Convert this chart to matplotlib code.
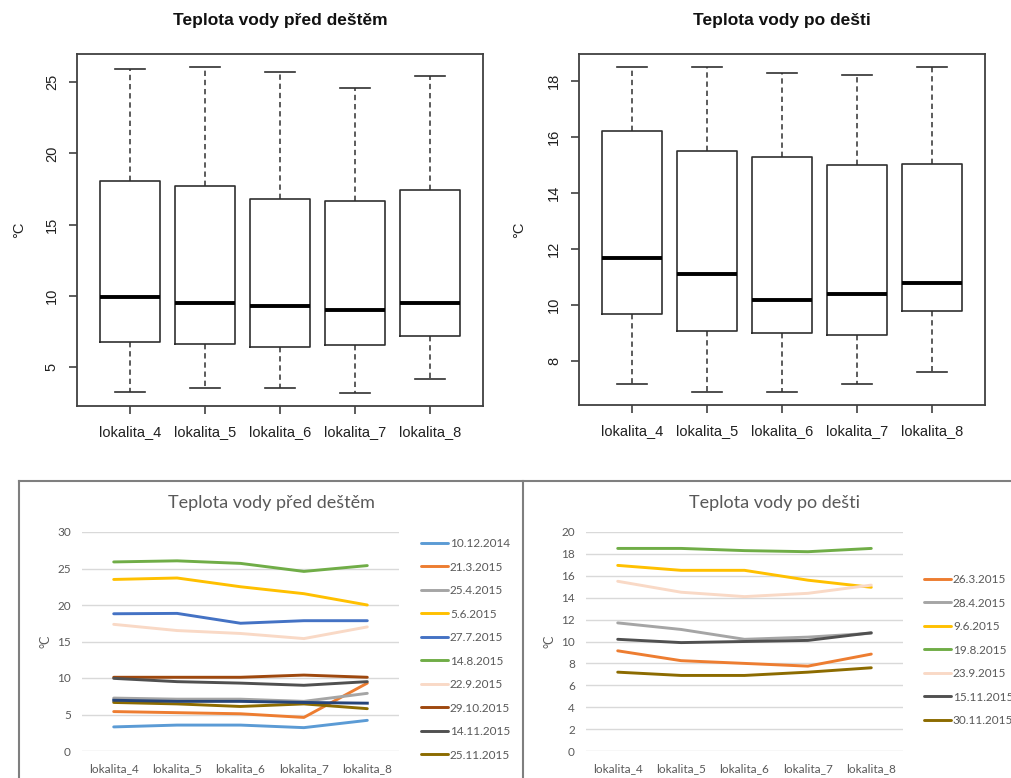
import matplotlib.pyplot as plt
import numpy as np
from matplotlib.lines import Line2D

sites = ["lokalita_4", "lokalita_5", "lokalita_6", "lokalita_7", "lokalita_8"]

# water temperature before rain, one list per sampling date
before_labels = ["10.12.2014", "21.3.2015", "25.4.2015", "5.6.2015", "27.7.2015",
                 "14.8.2015", "22.9.2015", "29.10.2015", "14.11.2015", "25.11.2015"]
b_10_12_2014 = [3.3, 3.55, 3.55, 3.2, 4.2]
b_21_3_2015 = [5.4, 5.25, 5.1, 4.6, 9.3]
b_25_4_2015 = [7.25, 7.1, 7.1, 6.8, 7.9]
b_5_6_2015 = [23.5, 23.7, 22.5, 21.55, 20.0]
b_27_7_2015 = [18.8, 18.85, 17.5, 17.85, 17.85]
b_14_8_2015 = [25.9, 26.05, 25.7, 24.6, 25.4]
b_22_9_2015 = [17.35, 16.5, 16.1, 15.4, 17.0]
b_29_10_2015 = [10.1, 10.1, 10.1, 10.4, 10.1]
b_14_11_2015 = [9.95, 9.5, 9.3, 9.0, 9.5]
b_25_11_2015 = [6.65, 6.45, 6.1, 6.45, 5.8]
b_extra = [6.95, 6.8, 6.8, 6.65, 6.55]   # last series, its legend row falls off the page
before_colors = ["#5B9BD5", "#ED7D31", "#A5A5A5", "#FFC000", "#4472C4",
                 "#70AD47", "#F9D9C6", "#9E480E", "#505050", "#8C6B00"]
extra_color = "#264478"

# water temperature after rain
after_labels = ["26.3.2015", "28.4.2015", "9.6.2015", "19.8.2015",
                "23.9.2015", "15.11.2015", "30.11.2015"]
a_26_3_2015 = [9.15, 8.25, 8.0, 7.75, 8.85]
a_28_4_2015 = [11.7, 11.1, 10.2, 10.4, 10.75]
a_9_6_2015 = [16.95, 16.5, 16.5, 15.6, 14.95]
a_19_8_2015 = [18.5, 18.5, 18.3, 18.2, 18.5]
a_23_9_2015 = [15.5, 14.5, 14.1, 14.4, 15.15]
a_15_11_2015 = [10.2, 9.9, 10.0, 10.1, 10.8]
a_30_11_2015 = [7.2, 6.9, 6.9, 7.2, 7.6]
after_colors = ["#ED7D31", "#A5A5A5", "#FFC000", "#70AD47",
                "#F9D9C6", "#505050", "#8C6B00"]

before = [b_10_12_2014, b_21_3_2015, b_25_4_2015, b_5_6_2015, b_27_7_2015,
          b_14_8_2015, b_22_9_2015, b_29_10_2015, b_14_11_2015, b_25_11_2015]
after = [a_26_3_2015, a_28_4_2015, a_9_6_2015, a_19_8_2015,
         a_23_9_2015, a_15_11_2015, a_30_11_2015]

W, H = 1012, 778
R_FONT = "Liberation Sans"
XL_FONT = "Lato"
XL_GREY = "#595959"


def rect(l, t, r, b):
    return [l / W, 1 - b / H, (r - l) / W, (b - t) / H]


def r_boxplot(ax, data, title, title_x, ylab_x):
    n = len(sites)
    pos = np.arange(1, n + 1)
    line = dict(color="#303030", linewidth=1.2)
    ax.boxplot(data, positions=pos, widths=0.8, whis=1.5, capwidths=0.4,
               boxprops=line, capprops=line,
               whiskerprops=dict(color="#303030", linewidth=1.1, linestyle=(0, (3.5, 2.5))),
               medianprops=dict(color="black", linewidth=2.8),
               showfliers=False)
    lo = min(min(d) for d in data)
    hi = max(max(d) for d in data)
    pad = (hi - lo) * 0.04
    ax.set_ylim(lo - pad, hi + pad)
    ax.set_xlim(0.5 - 0.2, n + 0.5 + 0.2)
    ax.set_xticks(pos)
    ax.set_xticklabels(sites)
    ax.tick_params(axis="both", length=6, width=1.1, color="#303030", labelsize=10.5,
                   labelcolor="#202020")
    ax.tick_params(axis="x", pad=8)
    ax.tick_params(axis="y", pad=7, labelrotation=90)
    plt.setp(ax.get_yticklabels(), va="center")
    for lab in ax.get_xticklabels() + ax.get_yticklabels():
        lab.set_fontfamily(R_FONT)
    for s in ax.spines.values():
        s.set_color("#404040")
        s.set_linewidth(1.3)
    ax.set_ylabel("°C", fontsize=10.5, fontfamily=R_FONT, color="#202020")
    ax.yaxis.set_label_coords(ylab_x, 0.5)
    fig.text(title_x / W, 1 - 21 / H, title, ha="center", va="center",
             fontsize=12.5, fontweight="bold", fontfamily=R_FONT, color="#111111")


def xl_linechart(ax, series, labels, colors, ymax, ystep, title, title_x, legend_xy):
    x = np.arange(len(sites))
    for vals, lab, col in zip(series, labels, colors):
        ax.plot(x, vals, color=col, linewidth=2.1, label=lab,
                solid_joinstyle="round", solid_capstyle="round")
    ax.set_xlim(-0.5, len(sites) - 0.5)
    ax.set_ylim(0, ymax)
    ax.set_yticks(np.arange(0, ymax + 0.1, ystep))
    ax.set_xticks(x)
    ax.set_xticklabels(sites)
    ax.grid(axis="y", color="#D9D9D9", linewidth=1.0)
    ax.set_axisbelow(True)
    for s in ax.spines.values():
        s.set_visible(False)
    ax.tick_params(axis="both", length=0, labelsize=8.5, labelcolor=XL_GREY)
    ax.tick_params(axis="y", pad=8)
    ax.tick_params(axis="x", pad=9)
    for lab in ax.get_xticklabels() + ax.get_yticklabels():
        lab.set_fontfamily(XL_FONT)
    ax.set_ylabel("°C", fontsize=9, fontfamily=XL_FONT, color=XL_GREY)
    ax.yaxis.set_label_coords(-0.095, 0.5)
    fig.text(title_x / W, 1 - 503 / H, title, ha="center", va="center",
             fontsize=13, fontfamily=XL_FONT, color=XL_GREY)
    ax.legend(loc="upper left", bbox_to_anchor=(legend_xy[0] / W, 1 - legend_xy[1] / H),
              bbox_transform=fig.transFigure, frameon=False, borderpad=0,
              borderaxespad=0, handlelength=2.3, handletextpad=0.15,
              labelspacing=1.06, prop=dict(family=XL_FONT, size=8.5),
              labelcolor=XL_GREY)


fig = plt.figure(figsize=(W / 100, H / 100), dpi=100)

ax1 = fig.add_axes(rect(77, 54, 483, 406))
r_boxplot(ax1, [list(v) for v in np.array(before + [b_extra]).T],
          "Teplota vody před deštěm", 280, -0.125)

ax2 = fig.add_axes(rect(579, 54, 985, 405))
r_boxplot(ax2, [list(v) for v in np.array(after).T], "Teplota vody po dešti", 782, -0.13)

ax3 = fig.add_axes(rect(82, 532, 399, 751))
xl_linechart(ax3, before, before_labels, before_colors, 30, 5,
             "Teplota vody před deštěm", 271, (421, 538))
ax3.plot(np.arange(len(sites)), b_extra, color=extra_color, linewidth=2.1,
         solid_joinstyle="round")

ax4 = fig.add_axes(rect(586, 532, 903, 751))
xl_linechart(ax4, after, after_labels, after_colors, 20, 2,
             "Teplota vody po dešti", 775, (924, 574))

# frames around the two lower charts
frame = dict(color="#7F7F7F", linewidth=1.5, transform=fig.transFigure)
fig.add_artist(Line2D([19 / W, 1], [1 - 481 / H, 1 - 481 / H], **frame))
fig.add_artist(Line2D([19 / W, 19 / W], [1 - 481 / H, 0], **frame))
fig.add_artist(Line2D([523 / W, 523 / W], [1 - 481 / H, 0], **frame))

fig.savefig("out.png", dpi=100)
